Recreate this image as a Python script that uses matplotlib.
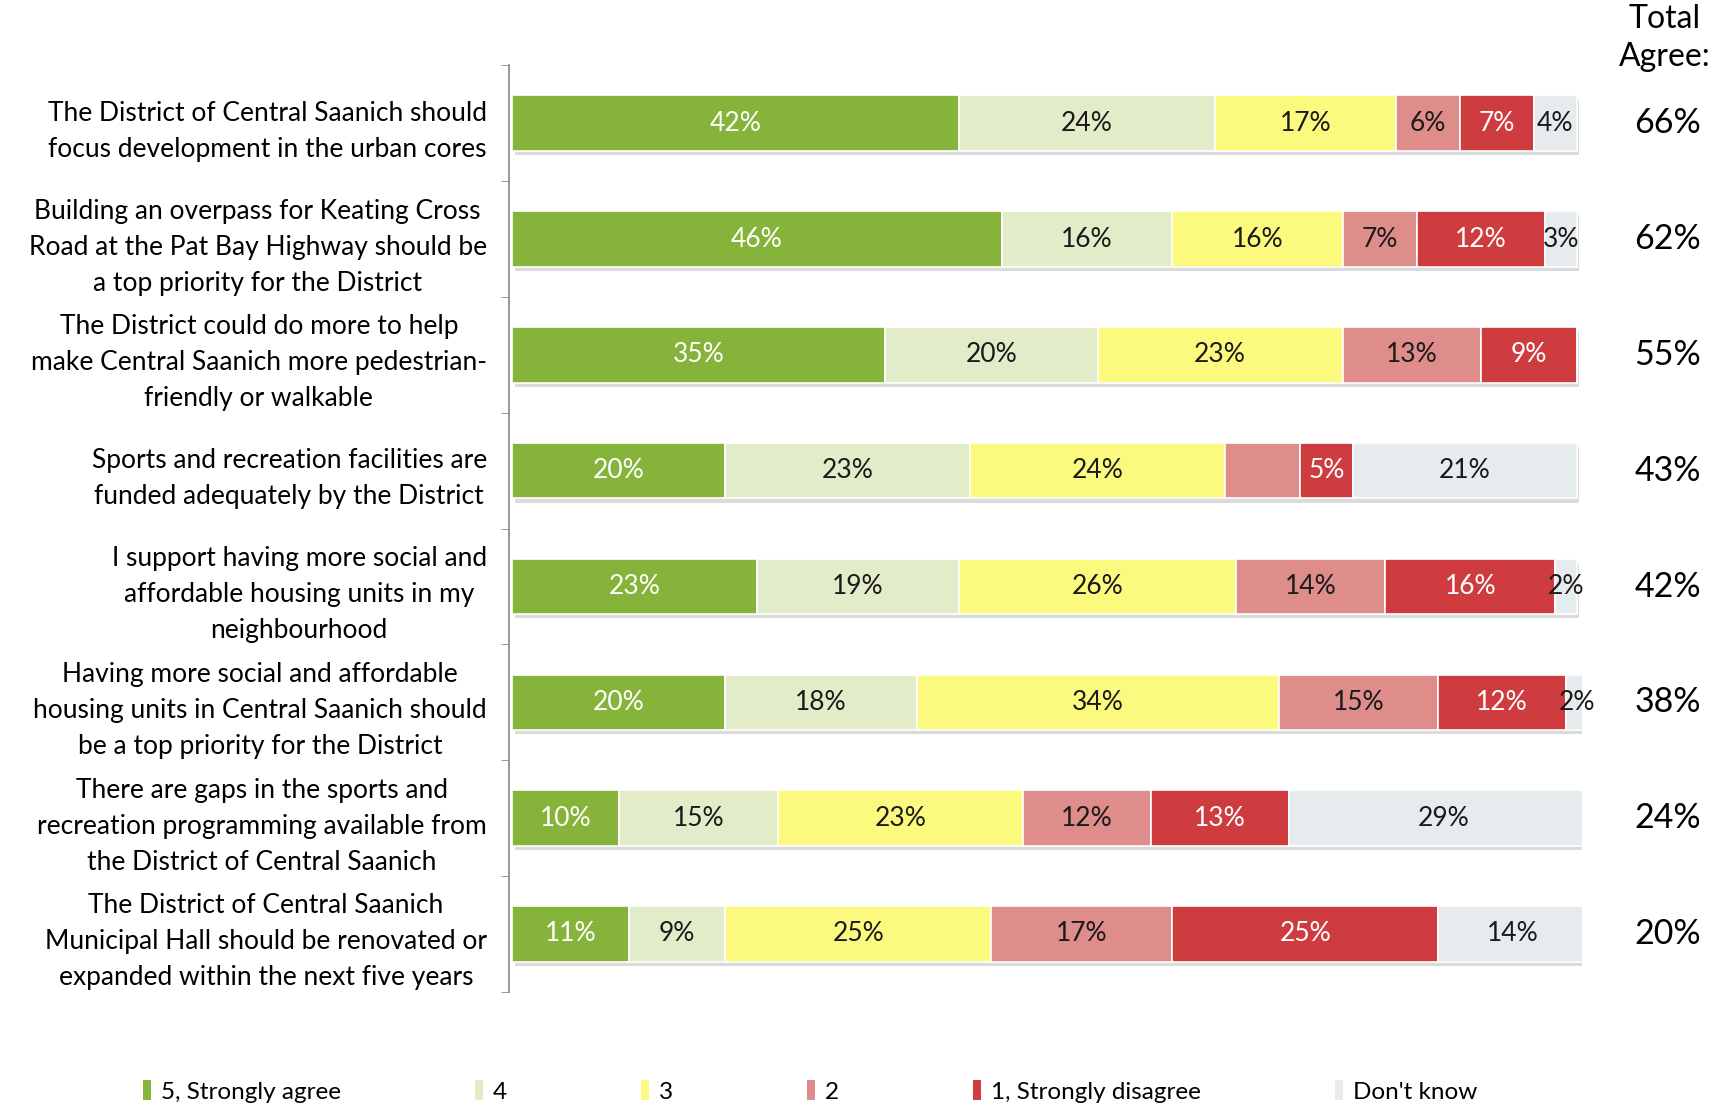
import matplotlib.pyplot as plt
import matplotlib.patheffects as pe
from matplotlib.patches import Patch
import numpy as np

plt.rcParams['font.family'] = ['Lato', 'DejaVu Sans']

statements = [
    "The District of Central Saanich should\nfocus development in the urban cores",
    "Building an overpass for Keating Cross\nRoad at the Pat Bay Highway should be\na top priority for the District",
    "The District could do more to help\nmake Central Saanich more pedestrian-\nfriendly or walkable",
    "Sports and recreation facilities are\nfunded adequately by the District",
    "I support having more social and\naffordable housing units in my\nneighbourhood",
    "Having more social and affordable\nhousing units in Central Saanich should\nbe a top priority for the District",
    "There are gaps in the sports and\nrecreation programming available from\nthe District of Central Saanich",
    "The District of Central Saanich\nMunicipal Hall should be renovated or\nexpanded within the next five years",
]

series_names = ["5, Strongly agree", "4", "3", "2", "1, Strongly disagree", "Don't know"]
agree5 = [42, 46, 35, 20, 23, 20, 10, 11]
agree4 = [24, 16, 20, 23, 19, 18, 15, 9]
neutral3 = [17, 16, 23, 24, 26, 34, 23, 25]
disagree2 = [6, 7, 13, 7, 14, 15, 12, 17]
disagree1 = [7, 12, 9, 5, 16, 12, 13, 25]
dont_know = [4, 3, 0, 21, 2, 2, 29, 14]
total_agree = [66, 62, 55, 43, 42, 38, 24, 20]
# the "2" segment of the sports facilities row carries no label in the source
hide_label = {(3, 3)}

colors = ['#86b43a', '#e3ecc8', '#fbfa7e', '#df8d8b', '#cf3c40', '#e6ebed']
text_colors = ['white', '#1a1a1a', '#1a1a1a', '#1a1a1a', 'white', '#1a1a1a']

data = [agree5, agree4, neutral3, disagree2, disagree1, dont_know]

fig = plt.figure(figsize=(17.29, 11.07), dpi=100)
ax = fig.add_axes([0.2944, 0.104, 0.6206, 0.837])

y = np.arange(len(statements))
left = np.zeros(len(statements))
shadow = [pe.SimplePatchShadow(offset=(2, -3), shadow_rgbFace='#9a9a9a', alpha=0.35), pe.Normal()]
for i, (vals, col, tcol) in enumerate(zip(data, colors, text_colors)):
    vals = np.array(vals, dtype=float)
    bars = ax.barh(y, vals, left=left, height=0.48, color=col, edgecolor='white',
                   linewidth=1.2, label=series_names[i])
    for b in bars:
        b.set_path_effects(shadow)
    for j, v in enumerate(vals):
        if v > 0 and (j, i) not in hide_label:
            ax.text(left[j] + v / 2, y[j], f"{int(v)}%", ha='center', va='center',
                    fontsize=19, color=tcol)
    left += vals

ax.set_xlim(-0.3, 100.5)
ax.set_ylim(len(statements) - 0.5, -0.5)

ax.set_yticks(y)
ax.set_yticklabels(statements, fontsize=19, linespacing=1.55, multialignment='center')
ax.tick_params(axis='y', which='major', length=0, pad=16)
ax.set_yticks(np.arange(-0.5, len(statements), 1), minor=True)
ax.tick_params(axis='y', which='minor', length=6, color='#888888', direction='out')
ax.set_xticks([])

for s in ['top', 'right', 'bottom']:
    ax.spines[s].set_visible(False)
ax.spines['left'].set_color('#888888')
ax.spines['left'].set_linewidth(1.2)

# Total agree column
fig.text(0.963, 0.996, "Total\nAgree:", ha='center', va='top', fontsize=23, linespacing=1.3)
for j, t in enumerate(total_agree):
    yd = ax.transData.transform((0, y[j]))[1]
    yf = fig.transFigure.inverted().transform((0, yd))[1]
    fig.text(0.9647, yf, f"{t}%", ha='center', va='center', fontsize=24.5)

handles = [Patch(facecolor=c, edgecolor='none') for c in colors]
fig.legend(handles, series_names, loc='center left', bbox_to_anchor=(0.07, 0.014),
           ncol=6, frameon=False, fontsize=17.5, handlelength=0.35, handleheight=0.9,
           handletextpad=0.4, columnspacing=5.5)

fig.savefig("out.png", dpi=100)
